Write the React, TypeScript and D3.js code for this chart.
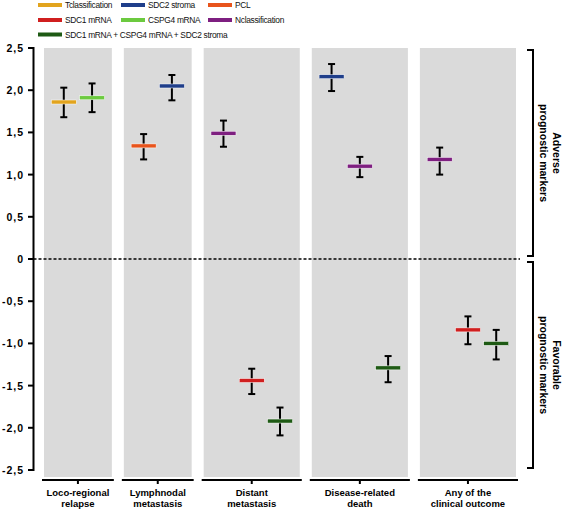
import React from "react";
import * as d3 from "d3";

const categories = [
  ["Loco-regional", "relapse"],
  ["Lymphnodal", "metastasis"],
  ["Distant", "metastasis"],
  ["Disease-related", "death"],
  ["Any of the", "clinical outcome"],
];

const seriesNames = ["Tclassification", "SDC2 stroma", "PCL", "SDC1 mRNA", "CSPG4 mRNA", "Nclassification", "SDC1 mRNA + CSPG4 mRNA + SDC2 stroma"];
const seriesColors = ["#e2a41e", "#1f3e8a", "#e8541c", "#d01f1f", "#6cca3f", "#7e1f80", "#1e5a14"];

// each point: category index, series index, mean, low, high
const pointCategory = [0, 0, 1, 1, 2, 2, 2, 3, 3, 3, 4, 4, 4];
const pointSeries = [0, 4, 2, 1, 5, 3, 6, 1, 5, 6, 5, 3, 6];
const pointMean = [1.86, 1.91, 1.34, 2.05, 1.49, -1.44, -1.92, 2.16, 1.10, -1.29, 1.18, -0.84, -1.00];
const pointLow = [1.68, 1.74, 1.18, 1.88, 1.33, -1.60, -2.09, 1.99, 0.97, -1.46, 1.00, -1.01, -1.19];
const pointHigh = [2.03, 2.08, 1.48, 2.18, 1.64, -1.30, -1.76, 2.31, 1.21, -1.15, 1.32, -0.68, -0.84];

const yTicks = [2.5, 2.0, 1.5, 1.0, 0.5, 0, -0.5, -1.0, -1.5, -2.0, -2.5];

const groupLabels = [
  { lines: ["Adverse", "prognostic markers"], from: 2.5, to: 0 },
  { lines: ["Favorable", "prognostic markers"], from: 0, to: -2.5 },
];

const W = 567;
const H = 510;
const AXIS_X = 33.5;
const PLOT_L = 44;
const PLOT_R = 516;
const GAP = 12;
const PAD = 0.7;
const PANEL_TOP = 48;
const PANEL_BOTTOM = 477;
const XAXIS_Y = 480;

const fmt = (v: number) => (v === 0 ? "0" : d3.format(".1f")(v).replace(".", ",").replace("−", "-"));

export default function App() {
  const y = d3.scaleLinear().domain([-2.5, 2.5]).range([470, 48]);

  const counts = categories.map((_, i) => pointCategory.filter((c) => c === i).length);
  const widths = counts.map((n) => n - 1 + 2 * PAD);
  const totalUnits = d3.sum(widths);
  const xu = d3.scaleLinear().domain([0, totalUnits]).range([PLOT_L, PLOT_R - GAP * (categories.length - 1)]);
  const offsets: number[] = [];
  let acc = 0;
  widths.forEach((w) => {
    offsets.push(acc);
    acc += w;
  });
  const panels = categories.map((c, i) => {
    const x0 = xu(offsets[i]) + i * GAP;
    const x1 = xu(offsets[i] + widths[i]) + i * GAP;
    return { x0, x1, c };
  });
  const slotIndex: number[] = [];
  const seen: Record<number, number> = {};
  pointCategory.forEach((c) => {
    seen[c] = (seen[c] ?? -1) + 1;
    slotIndex.push(seen[c]);
  });
  const px = (k: number) => {
    const i = pointCategory[k];
    return xu(offsets[i] + PAD + slotIndex[k]) + i * GAP;
  };

  const legendCols = [38, 121, 208];
  const legendRows = [5, 20, 34.5];

  return (
    <div style={{ position: "absolute", left: 0, top: 0 }}>
      <svg width={W} height={H} style={{ display: "block", background: "#fff" }} fontFamily="Arial, 'Liberation Sans', sans-serif">
        {seriesNames.map((name, i) => {
          const col = i % 3;
          const row = Math.floor(i / 3);
          const lx = legendCols[col];
          const ly = legendRows[row];
          return (
            <g key={name}>
              <rect x={lx} y={ly - 2} width={24} height={4} fill={seriesColors[i]} />
              <text x={lx + 27} y={ly} dominantBaseline="central" fontSize={8.4} letterSpacing={-0.3} fill="#111">
                {name}
              </text>
            </g>
          );
        })}

        {panels.map((p, i) => (
          <g key={i}>
            <rect x={p.x0} y={PANEL_TOP} width={p.x1 - p.x0} height={PANEL_BOTTOM - PANEL_TOP} fill="#dadada" />
            <line x1={p.x0 - 2} x2={p.x1 + 2} y1={XAXIS_Y} y2={XAXIS_Y} stroke="#000" strokeWidth={2} />
            <line x1={(p.x0 + p.x1) / 2} x2={(p.x0 + p.x1) / 2} y1={XAXIS_Y} y2={XAXIS_Y + 4} stroke="#000" strokeWidth={2} />
            {p.c.map((ln, j) => (
              <text key={j} x={(p.x0 + p.x1) / 2} y={496 + j * 11} textAnchor="middle" fontSize={9.5} fontWeight="bold" fill="#000">
                {ln}
              </text>
            ))}
          </g>
        ))}

        <line x1={AXIS_X} x2={520} y1={y(0)} y2={y(0)} stroke="#000" strokeWidth={1.4} strokeDasharray="3,2" />

        <line x1={AXIS_X} x2={AXIS_X} y1={y(2.5) - 1} y2={y(-2.5) + 1} stroke="#000" strokeWidth={2} />
        {yTicks.map((t) => (
          <g key={t}>
            <line x1={28} x2={AXIS_X} y1={y(t)} y2={y(t)} stroke="#000" strokeWidth={2} />
            <text x={24} y={y(t)} textAnchor="end" dominantBaseline="central" fontSize={10.5} fontWeight="bold" letterSpacing={1} fill="#000">
              {fmt(t)}
            </text>
          </g>
        ))}

        {pointMean.map((m, k) => {
          const cx = px(k);
          return (
            <g key={k}>
              <line x1={cx} x2={cx} y1={y(pointLow[k])} y2={y(pointHigh[k])} stroke="#000" strokeWidth={2} />
              <line x1={cx - 3.5} x2={cx + 3.5} y1={y(pointLow[k])} y2={y(pointLow[k])} stroke="#000" strokeWidth={2} />
              <line x1={cx - 3.5} x2={cx + 3.5} y1={y(pointHigh[k])} y2={y(pointHigh[k])} stroke="#000" strokeWidth={2} />
              <rect x={cx - 12.5} y={y(m) - 2} width={25} height={4} fill={seriesColors[pointSeries[k]]} stroke="#fff" strokeWidth={0.5} />
            </g>
          );
        })}

        {groupLabels.map((g, i) => {
          const top = y(g.from) + (i === 0 ? 2 : 3);
          const bot = y(g.to) - (i === 0 ? 3 : 2);
          const cy = (top + bot) / 2;
          return (
            <g key={i}>
              <path d={`M527,${top} H533 V${bot} H527`} fill="none" stroke="#000" strokeWidth={2} />
              <g transform={`translate(550,${cy}) rotate(90)`}>
                {g.lines.map((ln, j) => (
                  <text key={j} x={0} y={-3 + j * 13} textAnchor="middle" fontSize={10.5} fontWeight="bold" fill="#000">
                    {ln}
                  </text>
                ))}
              </g>
            </g>
          );
        })}
      </svg>
    </div>
  );
}
